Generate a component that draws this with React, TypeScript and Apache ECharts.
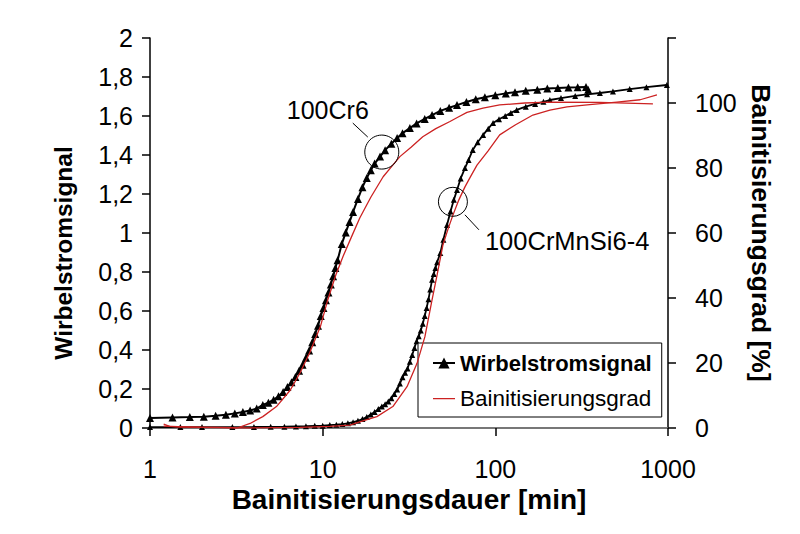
import { useEffect, useRef } from 'react';
import * as echarts from 'echarts';

// 100Cr6 – Wirbelstromsignal (left axis)
const cr6Time = [1, 1.35, 1.7, 2.05, 2.4, 2.75, 3.1, 3.45, 3.8, 4.15, 4.5, 4.85, 5.2, 5.55, 5.9, 6.25, 6.6, 6.95, 7.3, 7.65, 8, 8.35, 8.7, 9.05, 9.4, 9.75, 10.1, 10.45, 10.8, 11.15, 11.5, 11.85, 12.2, 12.9, 13.6, 14.3, 15, 16, 17, 18, 19, 20, 21.5, 23, 25, 27, 29, 32, 35, 39, 43, 48, 54, 60, 68, 77, 87, 100, 115, 130, 150, 175, 200, 230, 265, 300, 335, 345];
const cr6Signal = [0.051, 0.054, 0.056, 0.058, 0.063, 0.068, 0.075, 0.082, 0.09, 0.1, 0.118, 0.13, 0.145, 0.163, 0.185, 0.21, 0.235, 0.262, 0.293, 0.325, 0.36, 0.398, 0.44, 0.482, 0.525, 0.575, 0.615, 0.655, 0.695, 0.736, 0.778, 0.82, 0.86, 0.943, 1.003, 1.056, 1.108, 1.175, 1.235, 1.282, 1.322, 1.356, 1.392, 1.425, 1.458, 1.487, 1.512, 1.538, 1.562, 1.585, 1.605, 1.626, 1.642, 1.656, 1.672, 1.686, 1.696, 1.707, 1.716, 1.722, 1.729, 1.735, 1.741, 1.743, 1.746, 1.747, 1.749, 1.735];

// 100Cr6 – Bainitisierungsgrad (right axis, %)
const cr6GradTime = [1.2, 1.3, 1.5, 2, 2.5, 3.2, 3.8, 4.5, 5.4, 6.5, 7.4, 8.4, 9.7, 10.7, 11.9, 13.1, 14.6, 16.4, 19, 22.4, 25.2, 28, 32.5, 38, 45.2, 54.6, 60.6, 68.5, 84.8, 106, 148, 207, 403, 818];
const cr6Grad = [1.2, 0.5, 0.3, 0.3, 0.2, 0, 1.4, 3.5, 6.6, 11.7, 17, 23.1, 31.2, 39.4, 47, 52.7, 58.5, 64.6, 71, 77.3, 80.6, 83.5, 86.4, 89.6, 92.1, 94.3, 95.6, 97.1, 98.4, 99.4, 100, 100.3, 100.2, 99.7];

// 100CrMnSi6-4 – Wirbelstromsignal (left axis)
const mnsiTime = [1, 1.5, 2, 3, 4, 5, 6, 7, 8, 9, 10, 11, 12, 13, 14, 15, 16, 17, 18, 19, 20, 21, 22, 23, 24, 25, 26, 27, 28, 29, 30, 31, 32, 33, 34, 35, 36, 37, 38, 39, 40, 41, 42, 43, 44, 45, 46, 48, 50, 52.5, 55, 57.5, 60, 63, 66.7, 70, 74, 79, 85, 91, 97, 105, 114, 123, 133, 150, 170, 190, 207, 240, 290, 340, 403, 480, 600, 750, 985];
const mnsiSignal = [0.005, 0.005, 0.005, 0.005, 0.005, 0.006, 0.007, 0.008, 0.009, 0.011, 0.012, 0.015, 0.017, 0.02, 0.024, 0.03, 0.037, 0.046, 0.056, 0.069, 0.082, 0.097, 0.11, 0.122, 0.136, 0.153, 0.175, 0.197, 0.228, 0.26, 0.283, 0.305, 0.34, 0.374, 0.41, 0.445, 0.47, 0.5, 0.535, 0.575, 0.615, 0.66, 0.71, 0.76, 0.79, 0.82, 0.85, 0.897, 0.965, 1.041, 1.11, 1.17, 1.221, 1.28, 1.333, 1.375, 1.426, 1.465, 1.503, 1.535, 1.564, 1.583, 1.6, 1.616, 1.631, 1.648, 1.662, 1.673, 1.682, 1.692, 1.703, 1.711, 1.718, 1.726, 1.738, 1.748, 1.759];

// 100CrMnSi6-4 – Bainitisierungsgrad (right axis, %)
const mnsiGradTime = [1.2, 1.95, 3.8, 7.4, 11, 14.4, 16.4, 20.6, 25.5, 30.8, 35.2, 39.1, 43, 46, 49.7, 53.2, 56.8, 61.5, 66.7, 72.1, 78.3, 90.6, 106, 131, 165, 207, 260, 352, 506, 690, 863];
const mnsiGrad = [0.6, 0.2, 0, 0.2, 0.5, 0.9, 1.9, 3.5, 6.6, 12.7, 19.9, 28.1, 39.4, 47.1, 56.3, 61.2, 65.5, 70.2, 74.2, 77.5, 80.9, 85.2, 90.2, 93.3, 96.3, 97.8, 98.8, 99.5, 100.3, 101, 102.5];

// Annotation circles (data coords on left axis)
const annotationLabels = ['100Cr6', '100CrMnSi6-4'];
const annotationPoints: [number, number][] = [[22, 1.415], [56.8, 1.16]];

const zip = (xs: number[], ys: number[]) => xs.map((x, i) => [x, ys[i]]);

const FONT = "'Liberation Sans', Arial, sans-serif";
const RED = '#cc2222';
// thin horizontal bar with invisible corner dots so the legend keeps its height
const LINE_ICON = 'path://M0,0h0.05v0.05h-0.05z M0,6.4h22v1.3h-22z M0,13.95h0.05v0.05h-0.05z';

export default function App() {
  const chartRef = useRef<HTMLDivElement>(null);

  useEffect(() => {
    if (!chartRef.current) return;
    document.body.style.margin = '0';
    const chart = echarts.init(chartRef.current, null, { renderer: 'svg' });

    const signalStyle = {
      type: 'line' as const,
      name: 'Wirbelstromsignal',
      yAxisIndex: 0,
      symbol: 'triangle',
      symbolSize: 7,
      showAllSymbol: true,
      lineStyle: { color: '#000', width: 2 },
      itemStyle: { color: '#000' },
      z: 3,
    };
    const gradStyle = {
      type: 'line' as const,
      name: 'Bainitisierungsgrad',
      yAxisIndex: 1,
      symbol: 'none',
      showSymbol: false,
      lineStyle: { color: RED, width: 1.3 },
      itemStyle: { color: RED },
      z: 4,
    };

    chart.setOption({
      animation: false,
      backgroundColor: '#fff',
      textStyle: { fontFamily: FONT, color: '#000' },
      grid: { left: 150, right: 132, top: 38, bottom: 106, containLabel: false, outerBoundsMode: 'none' },
      legend: {
        orient: 'vertical',
        left: 418,
        top: 343,
        padding: [9, 10, 7, 14],
        itemGap: 13,
        itemWidth: 22,
        itemHeight: 14,
        selectedMode: false,
        backgroundColor: '#fff',
        borderColor: '#000',
        borderWidth: 1,
        borderRadius: 0,
        data: [
          { name: 'Wirbelstromsignal' },
          { name: 'Bainitisierungsgrad', icon: LINE_ICON },
        ],
        formatter: (name: string) => (name === 'Wirbelstromsignal' ? `{b|${name}}` : name),
        textStyle: {
          fontFamily: FONT,
          fontSize: 22.5,
          color: '#000',
          rich: { b: { fontFamily: FONT, fontSize: 22, fontWeight: 'bold', color: '#000' } },
        },
      },
      xAxis: [
        {
          type: 'log',
          logBase: 10,
          min: 1,
          max: 1000,
          name: 'Bainitisierungsdauer [min]',
          nameLocation: 'middle',
          nameGap: 55,
          nameTextStyle: { fontFamily: FONT, fontSize: 28, fontWeight: 'bold', color: '#000' },
          axisLine: { lineStyle: { color: '#000', width: 1.5 } },
          axisTick: { length: 8, lineStyle: { color: '#000', width: 1.5 } },
          minorTick: { show: false },
          axisLabel: {
            fontFamily: FONT,
            fontSize: 25,
            color: '#000',
            margin: 28,
            formatter: (v: number) => String(Math.round(v)),
          },
          splitLine: { show: false },
        },
        {
          type: 'log',
          logBase: 10,
          min: 1,
          max: 1000,
          position: 'top',
          axisLine: { lineStyle: { color: '#8a8a8a', width: 1.5 } },
          axisTick: { show: false },
          axisLabel: { show: false },
          splitLine: { show: false },
        },
      ],
      yAxis: [
        {
          type: 'value',
          min: 0,
          max: 2,
          interval: 0.2,
          name: 'Wirbelstromsignal',
          nameLocation: 'middle',
          nameGap: 74,
          nameTextStyle: {
            fontFamily: FONT,
            fontSize: 24.5,
            fontWeight: 'bold',
            color: '#000',
            padding: [0, 40, 0, 0],
          },
          axisLine: { show: true, lineStyle: { color: '#000', width: 1.5 } },
          axisTick: { show: true, length: 8, lineStyle: { color: '#000', width: 1.5 } },
          axisLabel: {
            fontFamily: FONT,
            fontSize: 25,
            color: '#000',
            margin: 17,
            formatter: (v: number) => String(Number(v.toFixed(1))).replace('.', ','),
          },
          splitLine: { show: false },
        },
        {
          type: 'value',
          min: 0,
          max: 120,
          interval: 20,
          position: 'right',
          name: 'Bainitisierungsgrad [%]',
          nameLocation: 'middle',
          nameRotate: -90,
          nameGap: 76,
          nameTextStyle: { fontFamily: FONT, fontSize: 26.5, fontWeight: 'bold', color: '#000' },
          axisLine: { show: true, lineStyle: { color: '#000', width: 1.5 } },
          axisTick: { show: true, length: 8, lineStyle: { color: '#000', width: 1.5 } },
          axisLabel: {
            fontFamily: FONT,
            fontSize: 25,
            color: '#000',
            margin: 27,
            formatter: (v: number) => (v > 100 ? '' : String(v)),
          },
          splitLine: { show: false },
        },
      ],
      series: [
        { ...gradStyle, data: zip(cr6GradTime, cr6Grad) },
        { ...gradStyle, data: zip(mnsiGradTime, mnsiGrad) },
        { ...signalStyle, data: zip(cr6Time, cr6Signal), symbolSize: 8 },
        { ...signalStyle, data: zip(mnsiTime, mnsiSignal), symbolSize: 6, lineStyle: { color: '#000', width: 1.8 } },
      ],
    });

    // Annotation circles + labels, placed through the axes
    const px = annotationPoints.map((p) => chart.convertToPixel({ xAxisIndex: 0, yAxisIndex: 0 }, p) as number[]);
    const [a, b] = px;
    chart.setOption({
      graphic: [
        { type: 'circle', shape: { cx: a[0], cy: a[1], r: 17 }, style: { fill: 'none', stroke: '#000', lineWidth: 1 }, z: 10 },
        { type: 'line', shape: { x1: a[0] - 29, y1: a[1] - 29, x2: a[0] - 14, y2: a[1] - 15 }, style: { stroke: '#000', lineWidth: 1 }, z: 10 },
        {
          type: 'text',
          x: a[0] - 54,
          y: a[1] - 42,
          style: { text: annotationLabels[0], font: `25px ${FONT}`, fill: '#000', align: 'center', verticalAlign: 'middle' },
          z: 10,
        },
        { type: 'circle', shape: { cx: b[0], cy: b[1], r: 14.5 }, style: { fill: 'none', stroke: '#000', lineWidth: 1 }, z: 10 },
        { type: 'line', shape: { x1: b[0] + 12, y1: b[1] + 13, x2: b[0] + 26, y2: b[1] + 28 }, style: { stroke: '#000', lineWidth: 1 }, z: 10 },
        {
          type: 'text',
          x: b[0] + 32,
          y: b[1] + 39,
          style: { text: annotationLabels[1], font: `25.5px ${FONT}`, fill: '#000', align: 'left', verticalAlign: 'middle' },
          z: 10,
        },
      ],
    });

    return () => chart.dispose();
  }, []);

  return <div ref={chartRef} style={{ width: 800, height: 534 }} />;
}
